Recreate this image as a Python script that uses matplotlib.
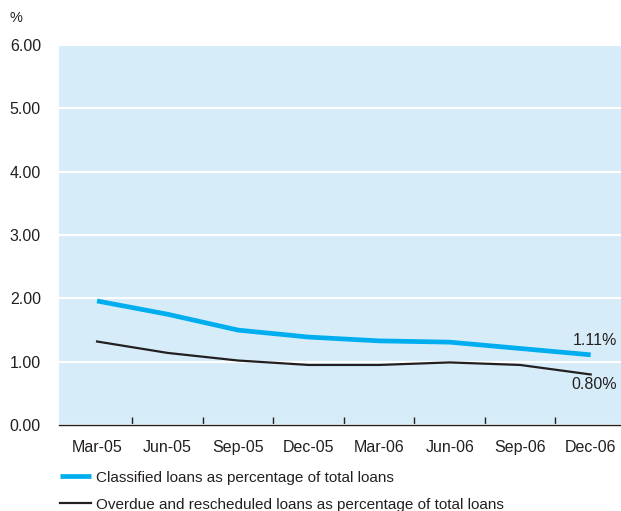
import matplotlib
matplotlib.use("Agg")
import numpy as np
from matplotlib import pyplot as plt

quarters = ["Mar-05", "Jun-05", "Sep-05", "Dec-05", "Mar-06", "Jun-06", "Sep-06", "Dec-06"]
classified = [1.96, 1.75, 1.50, 1.39, 1.33, 1.31, 1.21, 1.11]
overdue = [1.32, 1.14, 1.02, 0.95, 0.95, 0.99, 0.95, 0.80]
yticks = [0, 1, 2, 3, 4, 5, 6]

blue = "#00AEEF"
bg = "#D6EDF9"
ink = "#231F20"

plt.rcParams["font.family"] = ["Liberation Sans", "DejaVu Sans"]

fig = plt.figure(figsize=(6.21, 5.11), dpi=100)
ax = fig.add_axes([0.095, 0.168, 0.905, 0.744])
ax.set_facecolor(bg)

x = np.arange(len(quarters))
l1, = ax.plot(x, classified, color=blue, lw=3.4, solid_capstyle="butt", zorder=3)
l2, = ax.plot(x, overdue, color=ink, lw=1.6, zorder=3)

ax.set_xlim(-0.54, 7.43)
ax.set_ylim(0, 6)
ax.set_yticks(yticks)
ax.set_yticklabels(["%.2f" % v for v in yticks])
ax.set_xticks(x)
ax.set_xticklabels(quarters)
ax.set_xticks(x[:-1] + 0.5, minor=True)
ax.tick_params(axis="x", which="major", length=0, pad=11, labelsize=11.5, colors=ink)
ax.tick_params(axis="x", which="minor", direction="in", length=6, width=1, color=ink)
ax.tick_params(axis="y", length=0, pad=13, labelsize=11.5, colors=ink)

ax.grid(axis="y", color="white", lw=1.5)
ax.set_axisbelow(True)
for s in ["top", "right", "left"]:
    ax.spines[s].set_visible(False)
ax.spines["bottom"].set_color(ink)
ax.spines["bottom"].set_linewidth(1)

ax.annotate("%.2f%%" % classified[-1], (x[-1], classified[-1]), xytext=(19, 5),
            textcoords="offset points", ha="right", va="bottom", fontsize=11.5, color=ink)
ax.annotate("%.2f%%" % overdue[-1], (x[-1], overdue[-1]), xytext=(19, -2),
            textcoords="offset points", ha="right", va="top", fontsize=11.5, color=ink)

fig.text(0.016, 0.965, "%", fontsize=10.5, color=ink, va="center")

fig.legend([l1, l2], ["Classified loans as percentage of total loans",
                      "Overdue and rescheduled loans as percentage of total loans"],
           loc="upper left", bbox_to_anchor=(0.087, 0.091), frameon=False,
           fontsize=11, handlelength=2.0, handletextpad=0.35, labelspacing=0.85,
           borderaxespad=0, labelcolor=ink)

fig.savefig("out.png", dpi=100)
